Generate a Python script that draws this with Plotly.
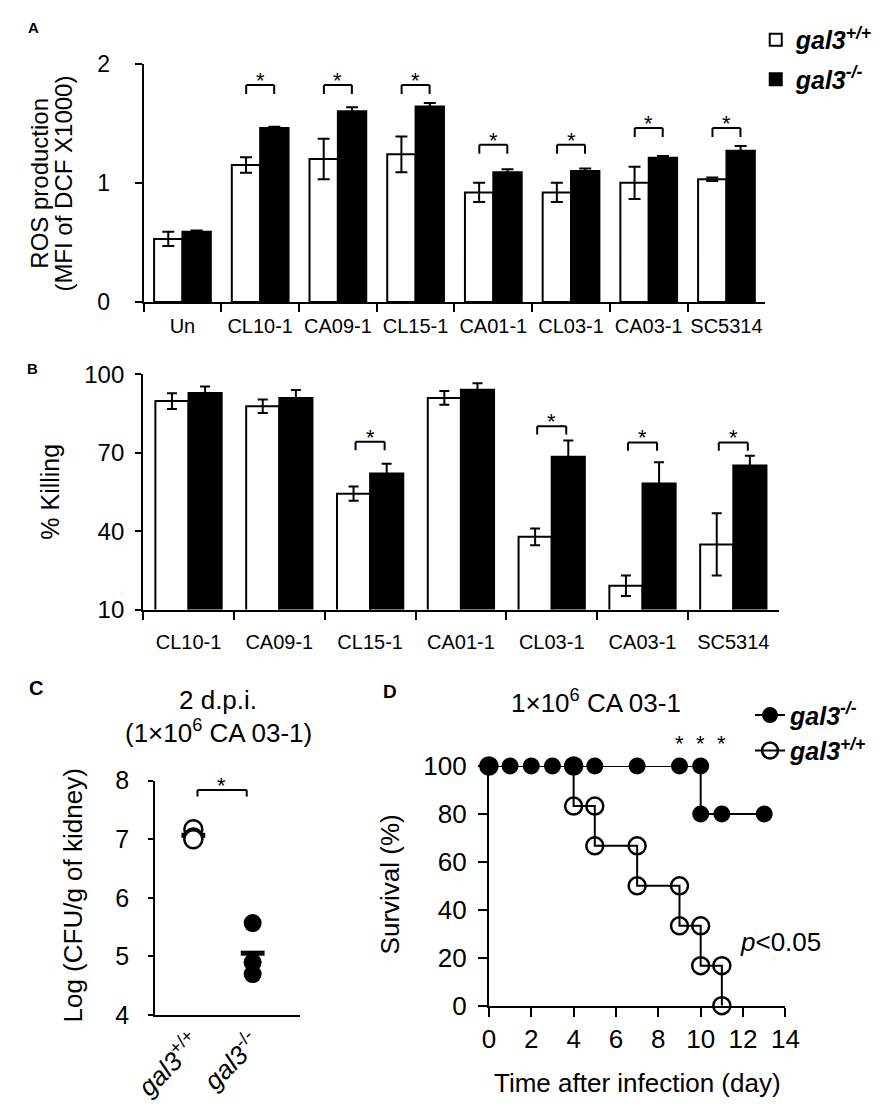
import plotly.graph_objects as go

# --- panel A: ROS production ---
A_cats = ["Un", "CL10-1", "CA09-1", "CL15-1", "CA01-1", "CL03-1", "CA03-1", "SC5314"]
A_wt = [0.53, 1.15, 1.20, 1.24, 0.92, 0.92, 1.00, 1.03]
A_wt_err = [0.06, 0.065, 0.17, 0.15, 0.08, 0.08, 0.135, 0.015]
A_ko = [0.59, 1.46, 1.60, 1.64, 1.09, 1.10, 1.21, 1.27]
A_ko_err = [0.01, 0.01, 0.035, 0.03, 0.025, 0.02, 0.015, 0.04]
A_sig = [None, 1.82, 1.82, 1.82, 1.32, 1.32, 1.46, 1.46]

# --- panel B: % killing ---
B_cats = ["CL10-1", "CA09-1", "CL15-1", "CA01-1", "CL03-1", "CA03-1", "SC5314"]
B_wt = [89.7, 87.7, 54.3, 90.9, 37.8, 19.1, 34.9]
B_wt_err = [3.0, 2.6, 2.7, 2.6, 3.2, 3.9, 11.9]
B_ko = [92.8, 90.9, 62.0, 94.0, 68.4, 58.2, 65.1]
B_ko_err = [2.5, 3.0, 3.7, 2.5, 6.2, 8.1, 3.7]
B_sig = [None, None, 74.1, None, 80.1, 73.9, 73.9]

# --- panel C: kidney fungal burden ---
C_groups = ["<i>gal3</i><sup>+/+</sup>", "<i>gal3</i><sup>-/-</sup>"]
C_wt = [7.17, 7.03, 7.00]
C_ko = [5.57, 4.90, 4.70]
C_sig = 7.84

# --- panel D: survival ---
D_ko_day = [0, 1, 2, 3, 4, 5, 7, 9, 10, 10, 11, 13]
D_ko_surv = [100, 100, 100, 100, 100, 100, 100, 100, 100, 80, 80, 80]
D_wt_day = [0, 4, 4, 5, 5, 7, 7, 9, 9, 10, 10, 11, 11]
D_wt_surv = [100, 100, 83.3, 83.3, 66.7, 66.7, 50, 50, 33.3, 33.3, 16.7, 16.7, 0]
D_sig_days = [9, 10, 11]

FONT = "Liberation Sans, Arial, sans-serif"
W, H = 896, 1118
WT_NAME = "<b><i>gal3<sup>+/+</sup></i></b>"
KO_NAME = "<b><i>gal3<sup>-/-</sup></i></b>"


def px(x):
    return x / W


def py(y):
    return 1 - y / H


fig = go.Figure()

# A bars
fig.add_trace(go.Bar(
    x=A_cats, y=A_wt, name=WT_NAME, legend="legend", legendgroup="wt",
    marker=dict(color="white", line=dict(color="black", width=2)),
    error_y=dict(type="data", array=A_wt_err, color="black", thickness=2, width=6),
    xaxis="x", yaxis="y"))
fig.add_trace(go.Bar(
    x=A_cats, y=A_ko, name=KO_NAME, legend="legend", legendgroup="ko",
    marker=dict(color="black", line=dict(color="black", width=2)),
    error_y=dict(type="data", array=A_ko_err, color="black", thickness=2, width=6),
    xaxis="x", yaxis="y"))

# B bars
fig.add_trace(go.Bar(
    x=B_cats, y=B_wt, showlegend=False,
    marker=dict(color="white", line=dict(color="black", width=2)),
    error_y=dict(type="data", array=B_wt_err, color="black", thickness=2, width=5),
    xaxis="x2", yaxis="y2"))
fig.add_trace(go.Bar(
    x=B_cats, y=B_ko, showlegend=False,
    marker=dict(color="black", line=dict(color="black", width=2)),
    error_y=dict(type="data", array=B_ko_err, color="black", thickness=2, width=5),
    xaxis="x2", yaxis="y2"))

# C mean bars first, dots on top
fig.add_trace(go.Scatter(
    x=[0, 1], y=[sum(C_wt) / len(C_wt), sum(C_ko) / len(C_ko)], mode="markers",
    showlegend=False, cliponaxis=False,
    marker=dict(symbol="line-ew", size=17, line=dict(color="black", width=5)),
    xaxis="x3", yaxis="y3"))
fig.add_trace(go.Scatter(
    x=[0] * len(C_wt), y=C_wt, mode="markers", showlegend=False, cliponaxis=False,
    marker=dict(symbol="circle", size=18, color="white", line=dict(color="black", width=2.5)),
    xaxis="x3", yaxis="y3"))
fig.add_trace(go.Scatter(
    x=[1] * len(C_ko), y=C_ko, mode="markers", showlegend=False, cliponaxis=False,
    marker=dict(symbol="circle", size=18, color="black"),
    xaxis="x3", yaxis="y3"))

# D survival curves
fig.add_trace(go.Scatter(
    x=D_wt_day, y=D_wt_surv, mode="lines+markers", name=WT_NAME, legend="legend2",
    legendrank=2, line=dict(color="black", width=2, shape="hv"), cliponaxis=False,
    marker=dict(symbol="circle-open", size=17, color="black", line=dict(width=2.5)),
    xaxis="x4", yaxis="y4"))
fig.add_trace(go.Scatter(
    x=D_ko_day, y=D_ko_surv, mode="lines+markers", name=KO_NAME, legend="legend2",
    legendrank=1, line=dict(color="black", width=2, shape="hv"), cliponaxis=False,
    marker=dict(symbol="circle", size=17, color="black"),
    xaxis="x4", yaxis="y4"))

# significance brackets
shapes = []
annotations = []


def bracket(xref, yref, x0, x1, y, leg, xs, ys):
    line = dict(color="black", width=2)
    shapes.append(dict(type="line", xref=xref, yref=yref, x0=x0, x1=x1, y0=y, y1=y, line=line))
    shapes.append(dict(type="line", xref=xref, yref=yref, x0=x0, x1=x0, y0=y, y1=y - leg, line=line))
    shapes.append(dict(type="line", xref=xref, yref=yref, x0=x1, x1=x1, y0=y, y1=y - leg, line=line))
    annotations.append(dict(xref=xref, yref=yref, x=xs, y=ys, text="*", showarrow=False,
                            yanchor="bottom", yshift=-10, font=dict(size=22, color="black")))


for i, h in enumerate(A_sig):
    if h is not None:
        bracket("x", "y", i - 0.18, i + 0.18, h, 0.075, i, h)
for i, h in enumerate(B_sig):
    if h is not None:
        bracket("x2", "y2", i - 0.16, i + 0.16, h, 3.2, i, h)
bracket("x3", "y3", 0.07, 0.9, C_sig, 0.11, 0.48, C_sig)

# D asterisks sit just above the 100 % line
for d in D_sig_days:
    annotations.append(dict(xref="x4", yref="y4", x=d, y=100, text="*", showarrow=False,
                            yanchor="middle", yshift=22, font=dict(size=22, color="black")))


def label(x, y, text, size, angle=0, bold=False):
    annotations.append(dict(xref="paper", yref="paper", x=px(x), y=py(y), text=text,
                            showarrow=False, textangle=angle, xanchor="center", yanchor="middle",
                            font=dict(size=size, color="black",
                                      weight="bold" if bold else "normal")))


label(9, 13, "A", 15, bold=True)
label(8, 363, "B", 15, bold=True)
label(11, 692, "C", 20, bold=True)
label(382, 695, "D", 19, bold=True)

label(15, 173, "ROS production", 24, angle=-90)
label(40, 173, "(MFI of DCF X1000)", 24, angle=-90)
label(26, 490, "% Killing", 25, angle=-90)
label(50, 905, "Log (CFU/g of kidney)", 26, angle=-90)
label(382, 893, "Survival (%)", 26, angle=-90)
label(640, 1097, "Time after infection (day)", 26)

label(202, 704, "2 d.p.i.", 26)
label(202, 736, "(1×10<sup>6</sup> CA 03-1)", 26)
label(597, 705, "1×10<sup>6</sup> CA 03-1", 26)
label(790, 953, "<i>p</i>&lt;0.05", 26)

axis = dict(showline=True, linecolor="black", linewidth=2, ticks="outside", tickcolor="black",
            tickwidth=2, showgrid=False, zeroline=False, color="black")

fig.update_layout(
    width=W, height=H, autosize=False,
    margin=dict(l=0, r=0, t=0, b=0),
    paper_bgcolor="white", plot_bgcolor="white",
    font=dict(family=FONT, color="black"),
    barmode="group", bargap=0.27, bargroupgap=0,
    shapes=shapes, annotations=annotations,
    xaxis=dict(axis, domain=[px(124), px(774)], anchor="y", type="category",
               tickson="boundaries", ticklen=8, tickfont=dict(size=20), tickangle=0,
               ticklabelstandoff=5),
    yaxis=dict(axis, domain=[py(295), py(50)], anchor="x", range=[0, 2],
               tickvals=[0, 1, 2], ticklen=7, tickfont=dict(size=23),
               ticklabelstandoff=20),
    xaxis2=dict(axis, domain=[px(123.5), px(788)], anchor="y2", type="category",
                tickson="boundaries", ticklen=8, tickfont=dict(size=20), tickangle=0,
                ticklabelstandoff=13),
    yaxis2=dict(axis, domain=[py(611), py(369)], anchor="x2", range=[10, 100],
                tickvals=[10, 40, 70, 100], ticklen=6, tickfont=dict(size=24),
                ticklabelstandoff=6),
    xaxis3=dict(axis, domain=[px(136), px(287)], anchor="y3", range=[-0.645, 1.79],
                tickvals=[0, 1], ticktext=C_groups, ticks="", tickangle=-45,
                tickfont=dict(size=26)),
    yaxis3=dict(axis, domain=[py(1027.7), py(786.7)], anchor="x3", range=[4, 8],
                dtick=1, ticklen=5, tickfont=dict(size=25), ticklabelstandoff=14),
    xaxis4=dict(axis, domain=[px(485), px(795)], anchor="y4", range=[0, 14],
                dtick=2, ticklen=9, tickfont=dict(size=26)),
    yaxis4=dict(axis, domain=[py(1018), py(771.7)], anchor="x4", range=[0, 100],
                dtick=20, ticklen=9, tickfont=dict(size=26), ticklabelstandoff=6),
    legend=dict(x=px(764), y=py(2), xanchor="left", yanchor="top",
                font=dict(size=25), tracegroupgap=4, bgcolor="rgba(0,0,0,0)"),
    legend2=dict(x=px(758), y=py(696), xanchor="left", yanchor="top",
                 font=dict(size=25), bgcolor="rgba(0,0,0,0)"),
)

fig.write_html("out.html", config={"displayModeBar": False},
               post_script="document.body.style.margin='0px';")
